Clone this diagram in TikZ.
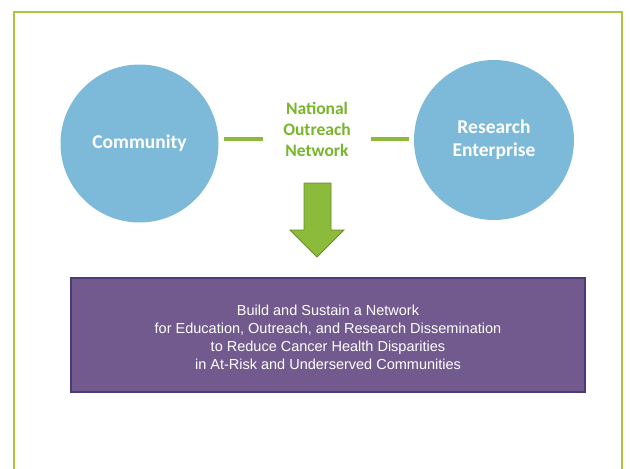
\documentclass[tikz,border=0pt]{standalone}
\usepackage{fontspec}
\setmainfont{Liberation Sans}
\newfontfamily\calibri{Carlito}
\usetikzlibrary{positioning}

\definecolor{framegreen}{HTML}{A8C83A}
\definecolor{linkgreen}{HTML}{8CBB3C}
\definecolor{textgreen}{HTML}{78B42C}
\definecolor{circleblue}{HTML}{7DBADA}
\definecolor{boxpurple}{HTML}{725A8E}
\definecolor{boxedge}{HTML}{4A3A78}

\tikzset{
  party/.style={circle,fill=circleblue,minimum size=158pt,inner sep=0pt,
    text=white,font=\calibri\bfseries\fontsize{19.5}{23}\selectfont,align=center},
  link/.style={draw=linkgreen,line width=4pt},
  goalbox/.style={draw=boxedge,line width=1.2pt,fill=boxpurple,minimum width=514pt,
    minimum height=114pt,text=white,align=center,font=\fontsize{14.5}{18}\selectfont}
}

\begin{document}
\begin{tikzpicture}[x=1pt,y=-1pt]
  \useasboundingbox (0,0) rectangle (630,469);
  % frame, open at the bottom
  \draw[framegreen,line width=2.5pt] (14,469) -- (14,12) -- (622,12) -- (622,469);

  \node[party] (community) at (139.5,143.5) {Community};
  \node[party,minimum size=160pt] (research) at (494,140) {Research\\Enterprise};
  \node[text=textgreen,font=\calibri\bfseries\fontsize{17.5}{21}\selectfont,align=center]
    (non) at (317,129) {National\\Outreach\\Network};

  \coordinate (la) at (224,139);
  \coordinate (lb) at (263,139);
  \coordinate (ra) at (371,139);
  \coordinate (rb) at (409,139);
  \draw[link] (la) -- (lb);
  \draw[link] (ra) -- (rb);

  % block arrow down to the goal
  \draw[fill=linkgreen,draw=linkgreen!75!black,line width=0.8pt,line join=miter]
    (304,183) -- (331,183) -- (331,230) -- (344,230) -- (317,257)
    -- (290,230) -- (304,230) -- cycle;

  \node[goalbox] (goal) at (328,335) {};
  \node[text=white,align=center,font=\fontsize{14.5}{18}\selectfont]
    (goaltext) at (328,337) {Build and Sustain a Network\\
    for Education, Outreach, and Research Dissemination\\
    to Reduce Cancer Health Disparities\\
    in At-Risk and Underserved Communities};
\end{tikzpicture}
\end{document}
